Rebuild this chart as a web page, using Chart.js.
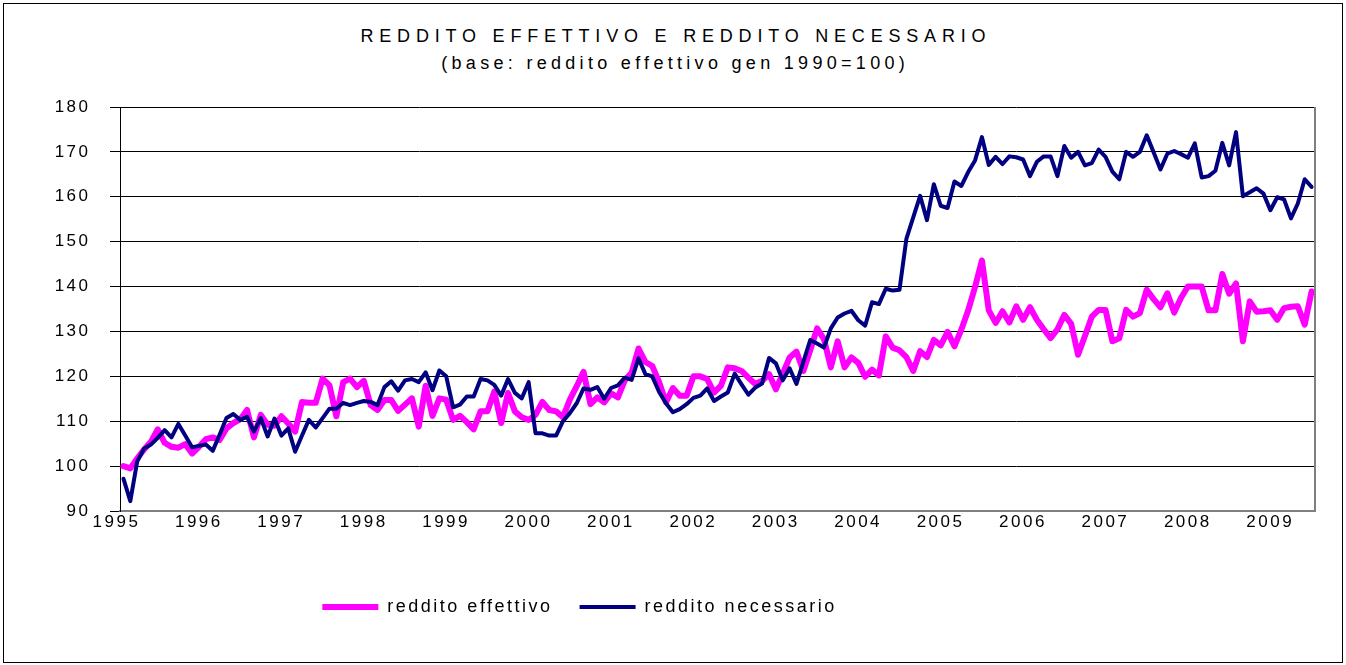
<!DOCTYPE html>
<html>
<head>
<meta charset="utf-8">
<script src="https://cdn.jsdelivr.net/npm/chart.js@4/dist/chart.umd.min.js"></script>
<style>
  html, body { margin: 0; padding: 0; background: #fff; }
  body { width: 1346px; height: 665px; position: relative; overflow: hidden; font-family: "Liberation Sans", Arial, sans-serif; }
  #frame { position: absolute; left: 3px; top: 3px; width: 1338px; height: 658px; border: 1px solid #000; }
  .ttl { position: absolute; left: 0; width: 1346px; text-align: center; font-size: 18px; line-height: 20px; color: #000; box-sizing: border-box; }
  #title { top: 26px; letter-spacing: 5.8px; padding-left: 5.8px; }
  #subtitle { top: 53px; letter-spacing: 4.3px; padding-left: 4.3px; }
  #chart { position: absolute; left: 0; top: 0; }
</style>
</head>
<body>
<div id="frame"></div>
<div id="title" class="ttl">REDDITO EFFETTIVO E REDDITO NECESSARIO</div>
<div id="subtitle" class="ttl">(base: reddito effettivo gen 1990=100)</div>
<canvas id="chart" width="1346" height="665"></canvas>

<script>
// monthly data, gen 1995 - giu 2009
const firstYear = 1995;
const monthNames = ["gen", "feb", "mar", "apr", "mag", "giu", "lug", "ago", "set", "ott", "nov", "dic"];
const yearLabels = ["1995", "1996", "1997", "1998", "1999", "2000", "2001", "2002", "2003", "2004", "2005", "2006", "2007", "2008", "2009"];

const redditoEffettivo = [
  100, 99.5, 101.7, 103.7, 105.4, 108.2, 105.2, 104.3, 104.1, 104.9, 102.8, 104.3,
  106, 106.4, 105.8, 108.4, 109.6, 110.4, 112.5, 106.4, 111.4, 109.2, 109, 111.1,
  109.5, 107.7, 114.3, 114.1, 114.1, 119.5, 118, 111.1, 118.7, 119.5, 117.6, 119,
  113.6, 112.5, 114.7, 114.7, 112.3, 113.7, 115.1, 108.8, 117.9, 111.2, 115.1, 114.8,
  110.3, 111.2, 109.8, 108.2, 112.2, 112.2, 116.6, 109.6, 116.3, 112.2, 110.9, 110.3,
  111.4, 114.3, 112.5, 112.2, 110.9, 114.8, 117.8, 121, 113.8, 115.3, 114.2, 116.2,
  115.3, 119.1, 120.8, 126.2, 123.2, 122.3, 118.7, 114.2, 117.4, 115.7, 115.7, 120,
  120, 119.4, 116.4, 117.9, 122, 121.8, 121.2, 119.7, 118.3, 119, 120.5, 117.1,
  120.6, 124.2, 125.5, 121.2, 125.8, 130.7, 128.3, 122, 127.8, 122, 124.2, 123,
  119.9, 121.5, 120.2, 128.9, 126.4, 125.8, 124.3, 121.2, 125.6, 124.3, 128.1, 126.9,
  129.9, 126.7, 130.4, 134.7, 139.9, 145.8, 134.7, 131.9, 134.5, 132, 135.6, 132.6,
  135.4, 132.6, 130.5, 128.5, 130.5, 133.7, 131.7, 124.8, 129, 133.3, 134.8, 134.8,
  127.8, 128.5, 134.8, 133.3, 134.1, 139.3, 137.2, 135.4, 138.5, 134.2, 137.5, 140,
  140, 140, 134.7, 134.7, 142.8, 138.4, 140.7, 127.8, 136.7, 134.4, 134.5, 134.7,
  132.6, 135.2, 135.5, 135.6, 131.5, 138.9
];

const redditoNecessario = [
  97.2, 92.2, 101, 103.9, 104.8, 106.3, 108, 106.4, 109.4, 106.8, 104.2, 104.5,
  104.8, 103.4, 107, 110.7, 111.6, 110.3, 111, 107.7, 110.7, 106.6, 110.6, 106.8,
  108.4, 103.2, 106.8, 110.3, 108.6, 110.7, 112.8, 112.8, 114.1, 113.6, 114.1, 114.5,
  114.3, 113.6, 117.6, 118.9, 116.8, 119.1, 119.4, 118.7, 120.9, 116.9, 121.3, 120,
  113.1, 113.7, 115.5, 115.5, 119.4, 119.1, 118.1, 115.7, 119.4, 116.3, 115.1, 118.7,
  107.3, 107.3, 106.8, 106.8, 110, 111.8, 114, 117.3, 117, 117.6, 115, 117.4,
  118, 119.7, 119.2, 124, 120.5, 120, 116.5, 114, 112, 112.7, 113.8, 115.2,
  115.7, 117.3, 114.5, 115.5, 116.4, 120.6, 118.2, 115.9, 117.5, 118.4, 124.1, 122.9,
  119.1, 121.8, 118.3, 123.2, 128.1, 127.3, 126.4, 130.7, 133.1, 134, 134.6, 132.5,
  131.3, 136.5, 136.1, 139.5, 139.1, 139.3, 150.6, 155.4, 160.2, 154.8, 162.8, 158,
  157.5, 163.4, 162.4, 165.5, 168.1, 173.3, 167.1, 168.9, 167.3, 169, 168.8, 168.3,
  164.6, 167.8, 169, 169, 164.6, 171.3, 168.7, 170, 167, 167.5, 170.5, 168.9,
  165.6, 163.9, 170, 168.9, 170, 173.7, 169.9, 166.1, 169.6, 170.2, 169.5, 168.7,
  171.9, 164.3, 164.6, 165.8, 172, 167, 174.4, 160.1, 161, 161.9, 160.7, 157,
  159.9, 159.4, 155.2, 158.5, 163.9, 162.2
];

const labels = redditoEffettivo.map((v, i) =>
  monthNames[i % 12] + " " + (firstYear + Math.floor(i / 12)));

// the original text is letter-spaced
const spacing = {
  id: "spacing",
  beforeLayout(chart) { chart.ctx.letterSpacing = "2.5px"; },
  beforeDraw(chart) { chart.ctx.letterSpacing = "2.5px"; }
};

// legend sits a bit left of centre in the original
const legendShift = {
  id: "legendShift",
  afterLayout(chart) {
    chart.legend.left -= 78;
    chart.legend.right -= 78;
  }
};

// grey plot-area edge on the right
const plotEdge = {
  id: "plotEdge",
  afterDatasetsDraw(chart) {
    const { ctx, chartArea } = chart;
    ctx.save();
    ctx.strokeStyle = "#808080";
    ctx.lineWidth = 2;
    ctx.beginPath();
    ctx.moveTo(chartArea.right, chartArea.top);
    ctx.lineTo(chartArea.right, chartArea.bottom);
    ctx.stroke();
    ctx.restore();
  }
};

Chart.defaults.font.family = "'Liberation Sans', Arial, sans-serif";
Chart.defaults.font.size = 18;
Chart.defaults.color = "#000";

new Chart(document.getElementById("chart"), {
  type: "line",
  data: {
    labels: labels,
    datasets: [
      {
        label: "reddito effettivo",
        data: redditoEffettivo,
        borderColor: "#ff00ff",
        backgroundColor: "#ff00ff",
        borderWidth: 6,
        borderJoinStyle: "round",
        borderCapStyle: "round",
        pointRadius: 0,
        tension: 0,
        order: 1
      },
      {
        label: "reddito necessario",
        data: redditoNecessario,
        borderColor: "#000080",
        backgroundColor: "#000080",
        borderWidth: 4,
        borderJoinStyle: "round",
        borderCapStyle: "round",
        pointRadius: 0,
        tension: 0,
        order: 0
      }
    ]
  },
  options: {
    responsive: false,
    animation: false,
    devicePixelRatio: 1,
    layout: { padding: { left: 0, right: 31, top: 107, bottom: 39 } },
    plugins: {
      legend: {
        position: "bottom",
        labels: {
          usePointStyle: true,
          pointStyle: "line",
          pointStyleWidth: 56,
          padding: 27,
          sort: (a, b) => a.datasetIndex - b.datasetIndex
        }
      },
      tooltip: { enabled: false },
      title: { display: false }
    },
    scales: {
      x: {
        offset: true,
        afterFit(scale) { scale.height = 60; },
        grid: { display: false, drawTicks: false },
        border: { color: "#808080", width: 2 },
        ticks: {
          autoSkip: false,
          maxRotation: 0,
          padding: 1,
          labelOffset: -7,
          font: { size: 17 },
          callback: (val, i) => i % 12 === 0 ? yearLabels[i / 12] : ""
        }
      },
      y: {
        min: 90,
        max: 180,
        afterFit(scale) { scale.width = 120; },
        grid: { color: "#000", lineWidth: 1, tickLength: 10 },
        border: { color: "#000", width: 1 },
        ticks: { stepSize: 10, padding: 19.5, font: { size: 17 } }
      }
    }
  },
  plugins: [spacing, legendShift, plotEdge]
});
</script>
</body>
</html>
